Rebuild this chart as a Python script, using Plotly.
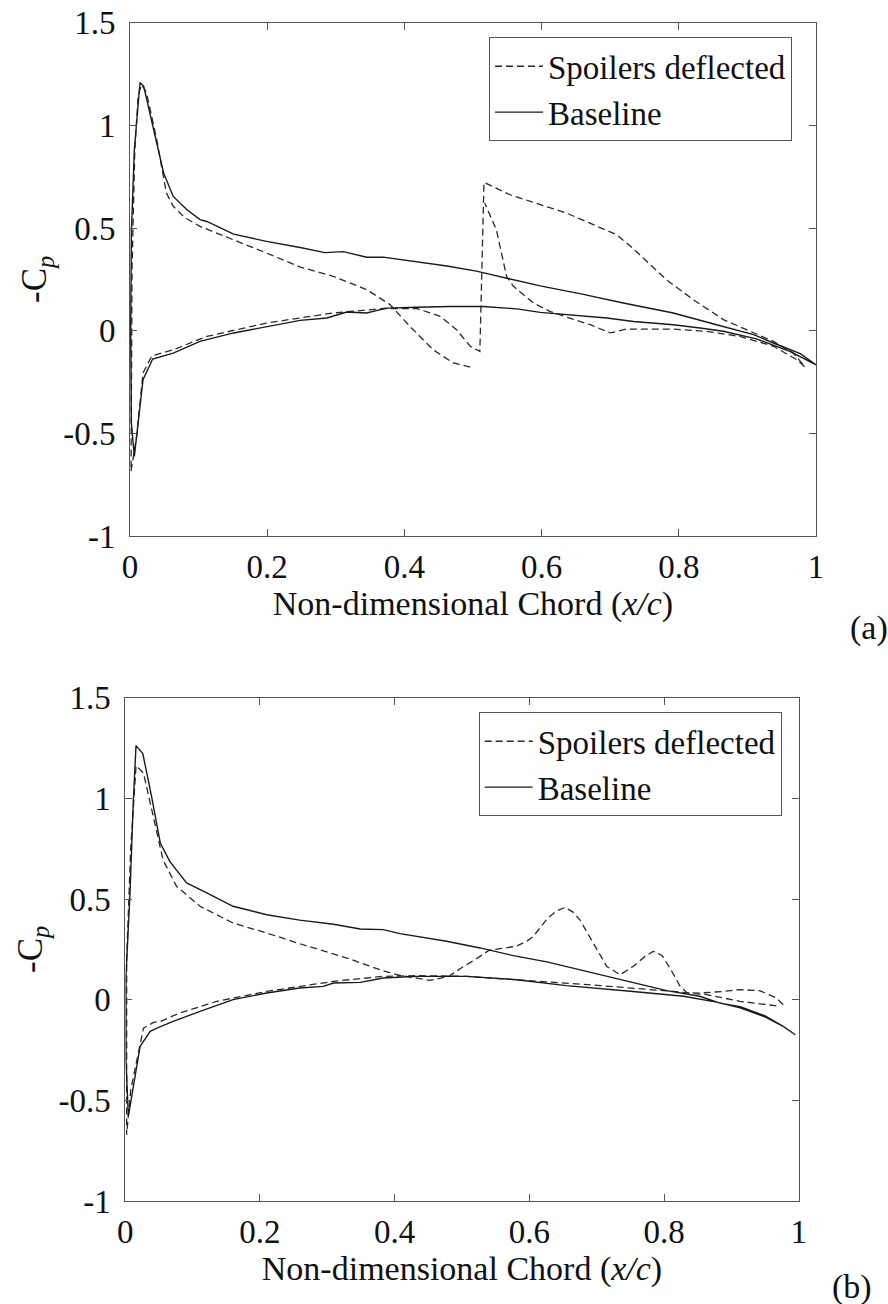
import plotly.graph_objects as go

# ---------------- data (a) ----------------
a_base_up_x = [0.0063, 0.002, 0.001, 0.002, 0.0063, 0.0146, 0.020, 0.036, 0.049, 0.063, 0.083, 0.102, 0.112, 0.151,
               0.199, 0.248, 0.284, 0.311, 0.345, 0.369, 0.418, 0.462, 0.505, 0.549, 0.598, 0.661, 0.719, 0.792,
               0.855, 0.909, 0.938, 0.977, 1.0]
a_base_up_y = [-0.612, -0.45, 0.0, 0.48, 0.88, 1.209, 1.19, 0.964, 0.768, 0.654, 0.589, 0.541, 0.532, 0.47,
               0.435, 0.405, 0.38, 0.385, 0.358, 0.358, 0.335, 0.315, 0.29, 0.255, 0.218, 0.177, 0.135, 0.086,
               0.029, -0.019, -0.06, -0.112, -0.166]
a_base_lo_x = [0.0063, 0.019, 0.033, 0.063, 0.102, 0.151, 0.199, 0.248, 0.287, 0.316, 0.345, 0.374, 0.418, 0.466,
               0.515, 0.564, 0.598, 0.661, 0.695, 0.734, 0.792, 0.831, 0.865, 0.913, 0.962, 1.0]
a_base_lo_y = [-0.612, -0.239, -0.138, -0.109, -0.052, -0.011, 0.021, 0.050, 0.062, 0.091, 0.086, 0.110, 0.114, 0.118,
               0.118, 0.106, 0.089, 0.070, 0.062, 0.045, 0.029, 0.013, -0.003, -0.040, -0.101, -0.166]

a_spoil_up_x = [0.0015, 0.003, 0.007, 0.012, 0.017, 0.024, 0.039, 0.053, 0.063, 0.080, 0.102, 0.151, 0.199, 0.248,
                0.296, 0.345, 0.379, 0.408, 0.442, 0.471, 0.496]
a_spoil_up_y = [-0.685, 0.3, 0.88, 1.15, 1.198, 1.16, 0.93, 0.671, 0.606, 0.55, 0.508, 0.443, 0.378, 0.310,
                0.265, 0.200, 0.127, 0.021, -0.093, -0.157, -0.177]
a_spoil_lo_x = [0.0015, 0.0097, 0.019, 0.032, 0.063, 0.112, 0.199, 0.248, 0.296, 0.369, 0.418, 0.452, 0.476, 0.496,
                0.510, 0.516, 0.554, 0.636, 0.709, 0.73, 0.758, 0.782, 0.821, 0.865, 0.904, 0.938, 0.967, 0.984,
                0.972, 0.938, 0.889, 0.840, 0.792, 0.724, 0.700, 0.671, 0.640, 0.612, 0.588, 0.559, 0.549, 0.540,
                0.534, 0.517]
a_spoil_lo_y = [-0.685, -0.515, -0.206, -0.122, -0.093, -0.028, 0.037, 0.062, 0.086, 0.108, 0.108, 0.070, 0.005, -0.076,
                -0.101, 0.722, 0.662, 0.573, 0.468, 0.41, 0.321, 0.248, 0.151, 0.054, -0.003, -0.052, -0.109, -0.177,
                -0.141, -0.076, -0.028, -0.003, 0.008, 0.008, -0.011, 0.029, 0.062, 0.094, 0.135, 0.216, 0.264, 0.40,
                0.492, 0.622]

# ---------------- data (b) ----------------
b_base_up_x = [0.0045, 0.001, 0.001, 0.007, 0.012, 0.0159, 0.026, 0.039, 0.052, 0.066, 0.091, 0.121, 0.160, 0.210,
               0.259, 0.309, 0.349, 0.383, 0.408, 0.477, 0.527, 0.576, 0.626, 0.700, 0.754, 0.804, 0.853, 0.883,
               0.913, 0.950, 0.977, 0.995]
b_base_up_y = [-0.58, -0.3, 0.116, 0.53, 0.994, 1.262, 1.222, 1.01, 0.778, 0.687, 0.580, 0.530, 0.464, 0.422,
               0.395, 0.375, 0.351, 0.348, 0.328, 0.290, 0.257, 0.219, 0.188, 0.130, 0.086, 0.045, 0.017, -0.017,
               -0.035, -0.08, -0.133, -0.174]
b_base_lo_x = [0.0045, 0.022, 0.037, 0.047, 0.071, 0.111, 0.160, 0.210, 0.259, 0.294, 0.309, 0.349, 0.383, 0.433,
               0.507, 0.581, 0.655, 0.754, 0.829, 0.878, 0.913, 0.950, 0.977, 0.995]
b_base_lo_y = [-0.58, -0.232, -0.157, -0.141, -0.108, -0.058, 0.0, 0.033, 0.058, 0.066, 0.083, 0.086, 0.108, 0.116,
               0.116, 0.099, 0.070, 0.041, 0.017, -0.012, -0.04, -0.085, -0.133, -0.174]

b_spoil_up_x = [0.002, 0.002, 0.008, 0.016, 0.027, 0.042, 0.056, 0.076, 0.111, 0.160, 0.210, 0.259, 0.279, 0.329,
                0.378, 0.403, 0.452, 0.48, 0.50, 0.52, 0.54, 0.556, 0.58, 0.596, 0.606, 0.626, 0.64, 0.653, 0.665,
                0.675, 0.695, 0.715, 0.735, 0.754, 0.772, 0.784, 0.797, 0.81, 0.824, 0.834, 0.853, 0.888, 0.913,
                0.942, 0.967, 0.977]
b_spoil_up_y = [-0.671, 0.2, 0.75, 1.162, 1.126, 0.911, 0.695, 0.563, 0.464, 0.381, 0.331, 0.278, 0.257, 0.207,
                0.149, 0.124, 0.096, 0.115, 0.16, 0.2, 0.245, 0.255, 0.265, 0.29, 0.315, 0.40, 0.44, 0.458, 0.435,
                0.397, 0.282, 0.165, 0.124, 0.165, 0.215, 0.240, 0.22, 0.15, 0.066, 0.035, 0.033, 0.041, 0.050,
                0.045, 0.008, -0.025]
b_spoil_lo_x = [0.002, 0.008, 0.017, 0.027, 0.042, 0.052, 0.081, 0.136, 0.210, 0.309, 0.383, 0.433, 0.507, 0.606,
                0.705, 0.814, 0.863, 0.913, 0.962, 0.972]
b_spoil_lo_y = [-0.671, -0.45, -0.30, -0.141, -0.113, -0.108, -0.066, -0.008, 0.041, 0.091, 0.116, 0.119, 0.116, 0.094,
                0.070, 0.041, 0.025, -0.008, -0.030, -0.033]

x_tickvals = [0, 0.2, 0.4, 0.6, 0.8, 1]
x_ticktext = ["0", "0.2", "0.4", "0.6", "0.8", "1"]
y_tickvals = [-1, -0.5, 0, 0.5, 1, 1.5]
y_ticktext = ["-1", "-0.5", "0", "0.5", "1", "1.5"]

series_names = ["Spoilers deflected", "Baseline"]
panel_labels = ["(a)", "(b)"]
x_title = "Non-dimensional Chord (<i>x/c</i>)"
y_title = "-C<sub><i>p</i></sub>"

FONT = "Liberation Serif"
TXT = "#111111"
AX = "#555555"


def loop(up_x, up_y, lo_x, lo_y):
    xs = list(reversed(up_x)) + lo_x[1:]
    ys = list(reversed(up_y)) + lo_y[1:]
    return xs, ys


fig = go.Figure()

panels = [
    ("x", "y", "legend", (a_spoil_up_x, a_spoil_up_y, a_spoil_lo_x, a_spoil_lo_y),
     (a_base_up_x, a_base_up_y, a_base_lo_x, a_base_lo_y)),
    ("x2", "y2", "legend2", (b_spoil_up_x, b_spoil_up_y, b_spoil_lo_x, b_spoil_lo_y),
     (b_base_up_x, b_base_up_y, b_base_lo_x, b_base_lo_y)),
]

for xa, ya, lg, sp, bs in panels:
    sx, sy = loop(*sp)
    fig.add_trace(go.Scatter(x=sx, y=sy, mode="lines", name=series_names[0], xaxis=xa, yaxis=ya, legend=lg,
                             line=dict(color="#2a2a2a", width=1.3, dash="7px,4px")))
    bx, by = loop(*bs)
    fig.add_trace(go.Scatter(x=bx, y=by, mode="lines", name=series_names[1], xaxis=xa, yaxis=ya, legend=lg,
                             line=dict(color="#1a1a1a", width=1.4)))

W, H = 888, 1304
dom = {
    "a": dict(x=[130 / W, 816 / W], y=[1 - 536 / H, 1 - 22.7 / H]),
    "b": dict(x=[125.3 / W, 798.7 / W], y=[1 - 1201 / H, 1 - 697.7 / H]),
}

axis_common = dict(showgrid=False, zeroline=False, showline=True, linecolor=AX, linewidth=1, mirror="ticks",
                   ticks="inside", ticklen=7, tickwidth=1, tickcolor=AX, automargin=False,
                   tickfont=dict(family=FONT, size=33, color=TXT))

xcommon = dict(axis_common, range=[0, 1], tickvals=x_tickvals, ticktext=x_ticktext, ticklabelstandoff=1,
               title=dict(text=x_title, font=dict(family=FONT, size=34, color=TXT), standoff=6))
ycommon = dict(axis_common, range=[-1, 1.5], tickvals=y_tickvals, ticktext=y_ticktext, ticklabelstandoff=7,
               title=dict(text=y_title, font=dict(family=FONT, size=35, color=TXT), standoff=5))

legend_common = dict(bgcolor="white", bordercolor=AX, borderwidth=1, font=dict(family=FONT, size=33, color=TXT),
                     xanchor="left", yanchor="top", itemwidth=48, tracegroupgap=0)

fig.update_layout(
    template="none",
    width=W, height=H, margin=dict(l=0, r=0, t=0, b=0, autoexpand=False),
    paper_bgcolor="white", plot_bgcolor="white",
    font=dict(family=FONT, size=33, color=TXT),
    xaxis=dict(xcommon, domain=dom["a"]["x"], anchor="y"),
    yaxis=dict(ycommon, domain=dom["a"]["y"], anchor="x"),
    xaxis2=dict(xcommon, domain=dom["b"]["x"], anchor="y2"),
    yaxis2=dict(ycommon, domain=dom["b"]["y"], anchor="x2"),
    legend=dict(legend_common, x=489 / W, y=1 - 37.3 / H),
    legend2=dict(legend_common, x=478.7 / W, y=1 - 712.3 / H),
    annotations=[
        dict(text=panel_labels[0], x=869 / W, y=1 - 628 / H, xref="paper", yref="paper", showarrow=False,
             xanchor="center", yanchor="middle", font=dict(family=FONT, size=34, color=TXT)),
        dict(text=panel_labels[1], x=852 / W, y=1 - 1287 / H, xref="paper", yref="paper", showarrow=False,
             xanchor="center", yanchor="middle", font=dict(family=FONT, size=34, color=TXT)),
    ],
    showlegend=True,
)

fig.write_html("out.html")
